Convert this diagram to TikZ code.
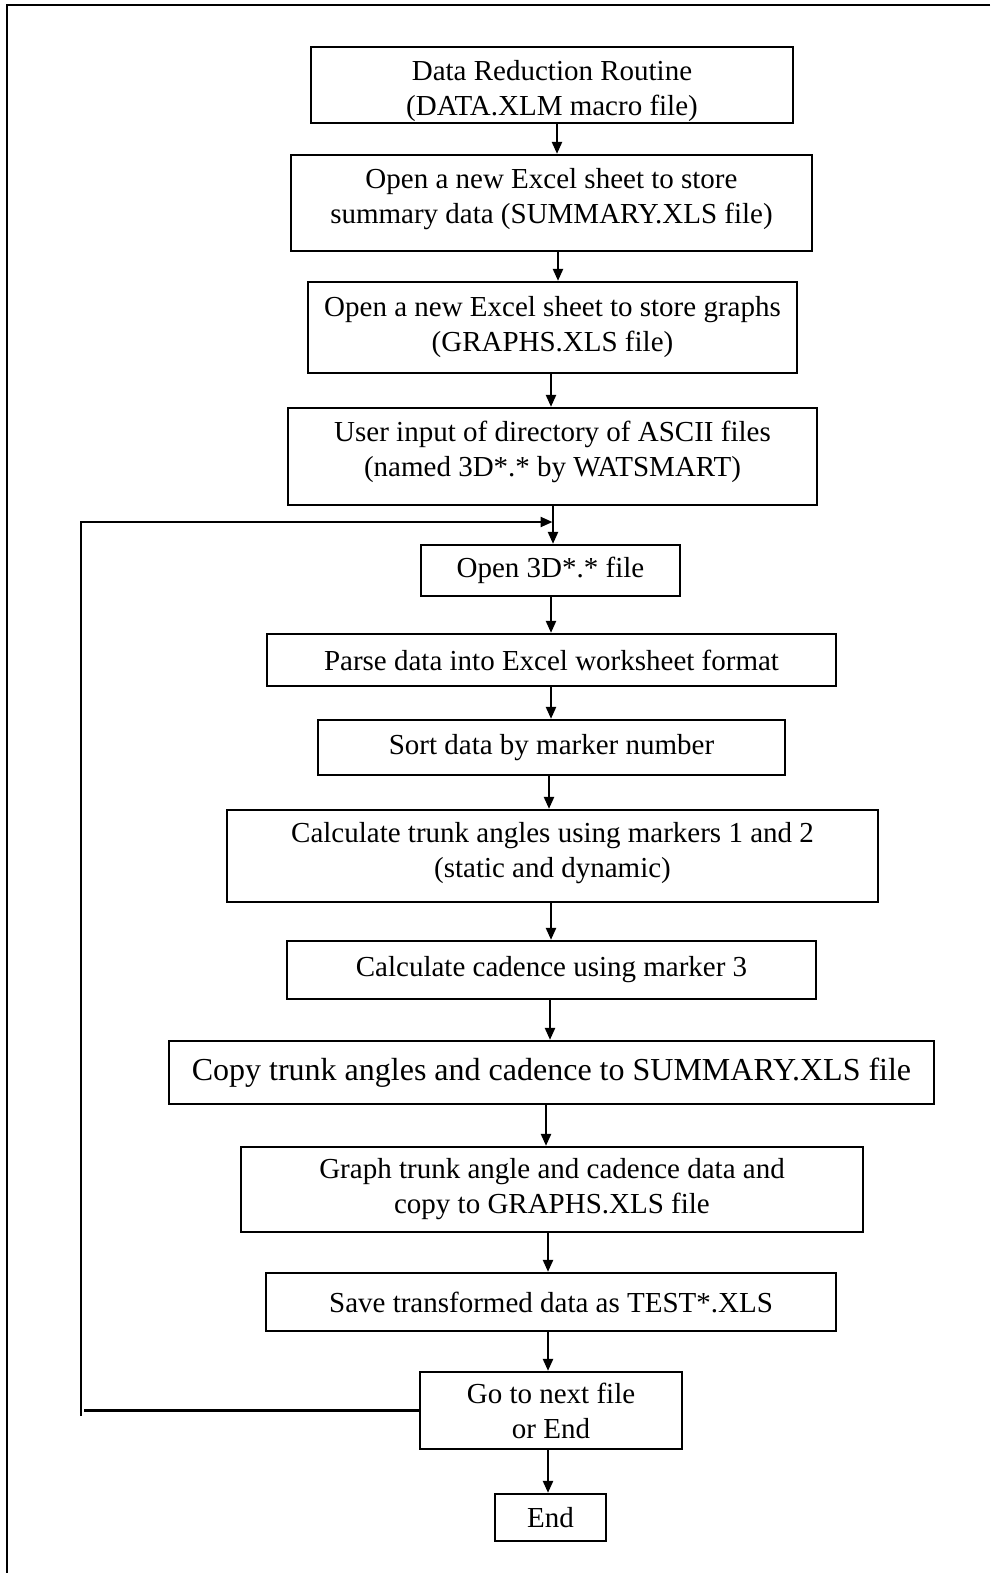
\documentclass[tikz,border=0pt]{standalone}
\usepackage{fontspec}
\setmainfont{Liberation Serif}
\usetikzlibrary{arrows.meta}
\begin{document}
\begin{tikzpicture}[x=1pt,y=-1pt,
  box/.style={draw,line width=2.3pt,rectangle,inner sep=0pt,align=center,
     font=\fontsize{29}{35}\selectfont},
  arr/.style={line width=2.3pt,-{Triangle[length=12pt,width=10pt]}},
  ln/.style={line width=2.3pt}]
\useasboundingbox (0,0) rectangle (990,1573);
\draw[ln] (990,5) -- (7,5) -- (7,1573);
\node[box,minimum width=482,minimum height=76] (b1) at (552,85) {\rule{0pt}{32pt}Data Reduction Routine\\(DATA.XLM macro file)};
\node[box,minimum width=521,minimum height=96] (b2) at (551.5,203) {Open a new Excel sheet to store\\summary data (SUMMARY.XLS file)\rule[-14pt]{0pt}{1pt}};
\node[box,minimum width=489,minimum height=91] (b3) at (552.5,327.5) {Open a new Excel sheet to store graphs\\(GRAPHS.XLS file)};
\node[box,minimum width=529,minimum height=97] (b4) at (552.5,456.5) {User input of directory of ASCII files\\(named 3D*.* by WATSMART)\rule[-16pt]{0pt}{1pt}};
\node[box,minimum width=259,minimum height=51] (b5) at (550.5,570.5) {Open 3D*.* file};
\node[box,minimum width=569,minimum height=52] (b6) at (551.5,660) {Parse data into Excel worksheet format};
\node[box,minimum width=467,minimum height=55] (b7) at (551.5,747.5) {Sort data by marker number};
\node[box,minimum width=651,minimum height=92] (b8) at (552.5,856) {Calculate trunk angles using markers 1 and 2\\(static and dynamic)\rule[-12pt]{0pt}{1pt}};
\node[box,minimum width=529,minimum height=58] (b9) at (551.5,970) {Calculate cadence using marker 3};
\node[box,minimum width=765,minimum height=63,font=\fontsize{32}{38}\selectfont] (b10) at (551.5,1072.5) {Copy trunk angles and cadence to SUMMARY.XLS file};
\node[box,minimum width=622,minimum height=85] (b11) at (552,1189.5) {Graph trunk angle and cadence data and\\copy to GRAPHS.XLS file};
\node[box,minimum width=570,minimum height=58] (b12) at (551,1302) {Save transformed data as TEST*.XLS};
\node[box,minimum width=262,minimum height=77] (b13) at (551,1410.5) {Go to next file\\or End};
\node[box,minimum width=111,minimum height=47] (b14) at (550.5,1517.5) {End};
\draw[arr] ([xshift=5pt]b1.south) -- ([xshift=5.5pt]b2.north);
\draw[arr] ([xshift=6.5pt]b2.south) -- ([xshift=5.5pt]b3.north);
\draw[arr] ([xshift=-1.5pt]b3.south) -- ([xshift=-1.5pt]b4.north);
\draw[arr] ([xshift=0.5pt]b4.south) -- ([xshift=2.5pt]b5.north);
\draw[arr] ([xshift=0.5pt]b5.south) -- ([xshift=-0.5pt]b6.north);
\draw[arr] ([xshift=-0.5pt]b6.south) -- ([xshift=-0.5pt]b7.north);
\draw[arr] ([xshift=-2.5pt]b7.south) -- ([xshift=-3.5pt]b8.north);
\draw[arr] ([xshift=-1.5pt]b8.south) -- ([xshift=-0.5pt]b9.north);
\draw[arr] ([xshift=-1.5pt]b9.south) -- ([xshift=-1.5pt]b10.north);
\draw[arr] ([xshift=-5.5pt]b10.south) -- ([xshift=-6pt]b11.north);
\draw[arr] ([xshift=-4pt]b11.south) -- ([xshift=-3pt]b12.north);
\draw[arr] ([xshift=-3pt]b12.south) -- ([xshift=-3pt]b13.north);
\draw[arr] ([xshift=-3pt]b13.south) -- ([xshift=-2.5pt]b14.north);
\coordinate (lh) at (84,1410.5);
\coordinate (lb) at (81,1416);
\coordinate (lt) at (81,522);
\coordinate (lj) at (552.5,522);
\draw[ln] (b13.west) -- (lh);
\draw[arr] (lb) -- (lt) -- (lj);
\end{tikzpicture}
\end{document}
